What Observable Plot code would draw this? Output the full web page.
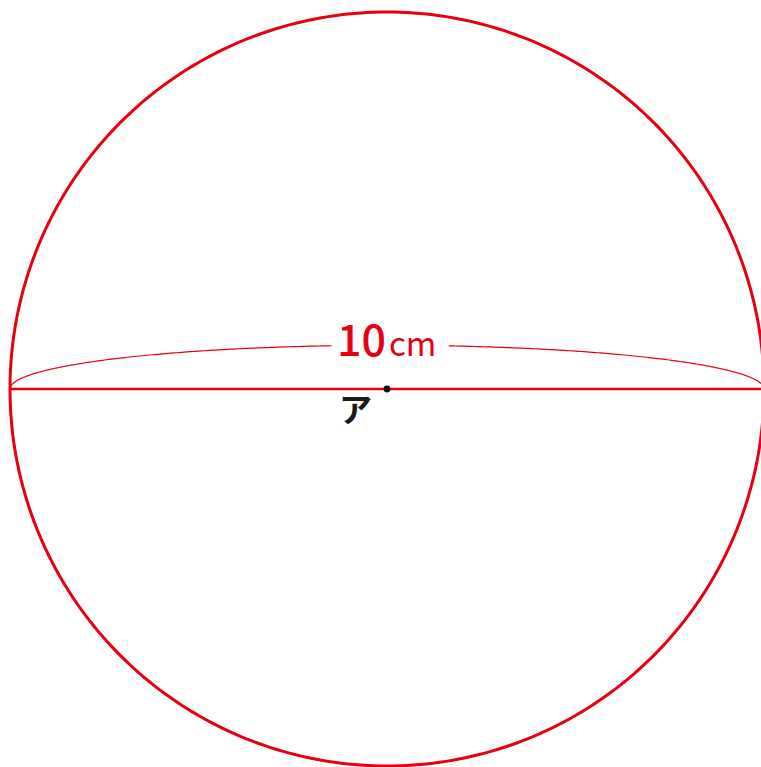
<!DOCTYPE html>
<html>
<head>
<meta charset="utf-8">
<script src="https://cdn.jsdelivr.net/npm/d3@7"></script>
<script src="https://cdn.jsdelivr.net/npm/@observablehq/plot@0.6"></script>
<style>
  html, body { margin: 0; padding: 0; background: #fff; }
  svg { display: block; }
</style>
</head>
<body>
<div id="chart"></div>
<script>
// ---- data ----
const diameterCm = [10];            // circle diameter (cm)
const braceRiseCm = [0.58];         // height of the dimension arc above the diameter
const braceGapCm = [-0.70, 0.79];   // where the arc is interrupted for the label
const numberLabel = ["10"];
const unitLabel = ["cm"];
const centerLabel = ["ア"];

// ---- geometry built from the data ----
const R = diameterCm[0] / 2;
const red = "#e60012";
const W = 761, H = 767;
const pxPerCm = 75.4;
const cx = 386.5, cy = 388.5;

const circlePts = d3.range(0, 361, 1).map(a => {
  const t = a * Math.PI / 180;
  return { x: R * Math.cos(t), y: R * Math.sin(t) };
});
const arcPts = d3.range(0, 181, 0.5).map(a => {
  const t = a * Math.PI / 180;
  return { x: R * Math.cos(t), y: braceRiseCm[0] * Math.sin(t) };
});
const arcRight = arcPts.filter(d => d.x >= braceGapCm[1]);
const arcLeft = arcPts.filter(d => d.x <= braceGapCm[0]);
const diameter = [{ x: -R, y: 0 }, { x: R, y: 0 }];

const chart = Plot.plot({
  width: W,
  height: H,
  margin: 0,
  x: { domain: [-cx / pxPerCm, (W - cx) / pxPerCm], axis: null },
  y: { domain: [-(H - cy) / pxPerCm, cy / pxPerCm], axis: null },
  marks: [
    Plot.line(circlePts, { x: "x", y: "y", stroke: red, strokeWidth: 3 }),
    Plot.line(diameter, { x: "x", y: "y", stroke: red, strokeWidth: 2.4 }),
    Plot.line(arcLeft, { x: "x", y: "y", stroke: red, strokeWidth: 1.2 }),
    Plot.line(arcRight, { x: "x", y: "y", stroke: red, strokeWidth: 1.2 }),
    Plot.dot([{ x: 0, y: 0 }], { x: "x", y: "y", r: 3.4, fill: "#111", stroke: "none" }),
    Plot.text(numberLabel, {
      x: () => 0, y: () => (cy - 355) / pxPerCm, text: d => d,
      textAnchor: "end", lineAnchor: "bottom", dx: -1,
      fill: red, fontSize: 43, fontWeight: 500,
      fontFamily: "Noto Sans CJK JP, Noto Sans, sans-serif"
    }),
    Plot.text(unitLabel, {
      x: () => 0, y: () => (cy - 355) / pxPerCm, text: d => d,
      textAnchor: "start", lineAnchor: "bottom", dx: 2,
      fill: red, fontSize: 33, fontWeight: 400,
      fontFamily: "Noto Sans CJK JP, Noto Sans, sans-serif"
    }),
    Plot.text(centerLabel, {
      x: () => (355 - cx) / pxPerCm, y: () => (cy - 411) / pxPerCm, text: d => d,
      textAnchor: "middle", lineAnchor: "middle",
      fill: "#1a1a1a", fontSize: 33, fontWeight: 600,
      fontFamily: "Noto Sans CJK JP, sans-serif"
    })
  ]
});
document.getElementById("chart").appendChild(chart);
</script>
</body>
</html>
